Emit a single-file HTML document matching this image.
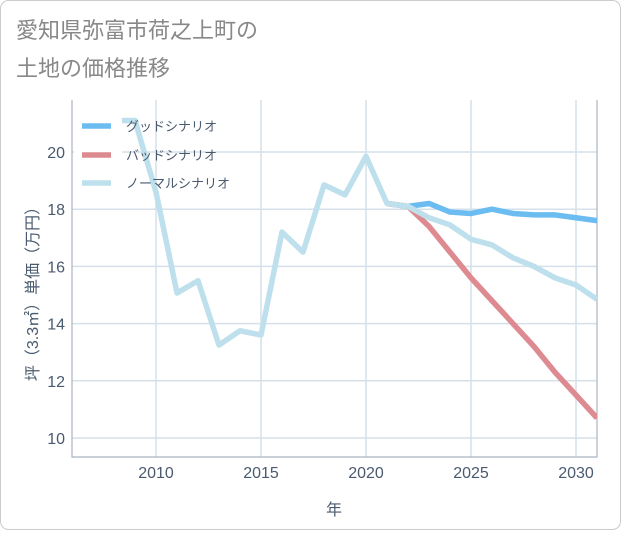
<!DOCTYPE html>
<html><head><meta charset="utf-8"><style>
body{margin:0;background:#fff;}
#wrap{position:relative;width:621px;height:530px;}
text{font-family:"Liberation Sans","Noto Sans CJK JP",sans-serif;}
</style></head><body>
<div id="wrap">
<svg id="svg" width="621" height="530" xmlns="http://www.w3.org/2000/svg">
<rect x="0.5" y="0.5" width="620" height="529" rx="8" fill="#fff" stroke="#ccc"/>
<text x="16" y="38" font-size="22" fill="#888">愛知県弥富市荷之上町の</text>
<text x="16" y="76" font-size="22" fill="#888">土地の価格推移</text>
<g id="grid"></g><g id="series"></g><g id="legend"></g>
</svg></div>
<script>
const years=[2008,2009,2010,2011,2012,2013,2014,2015,2016,2017,2018,2019,2020,2021,2022,2023,2024,2025,2026,2027,2028,2029,2030,2031];
const normalVals=[21.1,21.1,18.6,15.07,15.5,13.25,13.75,13.6,17.2,16.5,18.85,18.5,19.85,18.2,18.1,17.7,17.45,16.95,16.75,16.3,16.0,15.6,15.35,14.85];
const goodYears=[2021,2022,2023,2024,2025,2026,2027,2028,2029,2030,2031];
const goodVals=[18.2,18.1,18.2,17.9,17.85,18.0,17.85,17.8,17.8,17.7,17.6];
const badYears=[2021,2022,2023,2024,2025,2026,2027,2028,2029,2030,2031];
const badVals=[18.2,18.1,17.4,16.5,15.6,14.8,14.0,13.2,12.3,11.5,10.7];
const xTicks=[2010,2015,2020,2025,2030];
const yTicks=[10,12,14,16,18,20];
const L=72,R=597,T=100,B=457;
const LAB='#4a5a6e';
const X=y=>156+(y-2010)*21;
const Y=v=>438-(v-10)*28.6;
const NS="http://www.w3.org/2000/svg";
function mk(tag,attrs,parent){const e=document.createElementNS(NS,tag);for(const k in attrs)e.setAttribute(k,attrs[k]);parent.appendChild(e);return e;}
const grid=document.getElementById('grid');
for(const t of xTicks){
 const l=mk('line',{x1:X(t),x2:X(t),y1:T,y2:B,stroke:'#d5e0ea','stroke-width':1.5},grid);
 
 
 const tx=mk('text',{x:X(t),y:478,'font-size':16,fill:LAB,'text-anchor':'middle'},grid);tx.textContent=t;
 
 
}
for(const t of yTicks){
 const l=mk('line',{x1:L,x2:R,y1:Y(t),y2:Y(t),stroke:'#d5e0ea','stroke-width':1.5},grid);
 
 
 const tx=mk('text',{x:65,y:Y(t)+6,'font-size':16,fill:LAB,'text-anchor':'end'},grid);tx.textContent=t;
 
 
}
const ax=mk('path',{d:`M${L},${T}V${B}H${R}V${T}`,fill:'none',stroke:'#aab4bf','stroke-width':1.2},grid);


const xt=mk('text',{x:334,y:515,'font-size':16,fill:LAB,'text-anchor':'middle'},grid);xt.textContent='年';


const yt=mk('text',{x:0,y:0,'font-size':16,fill:LAB,'text-anchor':'middle',transform:'translate(38,290) rotate(-90)'},grid);yt.textContent='坪（3.3㎡）単価（万円）';


const sg=document.getElementById('series');
const clip=mk('clipPath',{id:'pc'},sg);mk('rect',{x:L,y:T,width:R-L,height:B-T},clip);
function line(xs,vs,color,name){
 const p=mk('polyline',{points:xs.map((y,i)=>X(y)+','+Y(vs[i])).join(' '),fill:'none',stroke:color,'stroke-width':5.5,'stroke-linejoin':'round','clip-path':'url(#pc)'},sg);
 
 
}
line(goodYears,goodVals,'#6bbcf0','good-scenario-line');
line(badYears,badVals,'#de8a91','bad-scenario-line');
line(years,normalVals,'#bde0ec','normal-scenario-line');
const lg=document.getElementById('legend');
mk('rect',{x:74,y:102,width:48,height:100,fill:'#fff'},lg);
const items=[['グッドシナリオ','#6bbcf0',126],['バッドシナリオ','#de8a91',155],['ノーマルシナリオ','#bde0ec',183]];
for(const [lab,c,y] of items){
 const l=mk('line',{x1:82,x2:111,y1:y,y2:y,stroke:c,'stroke-width':5.5},lg);
 
 
 const t=mk('text',{x:126,y:y+5,'font-size':13,fill:LAB},lg);t.textContent=lab;
 
 
}
</script>
</body></html>
